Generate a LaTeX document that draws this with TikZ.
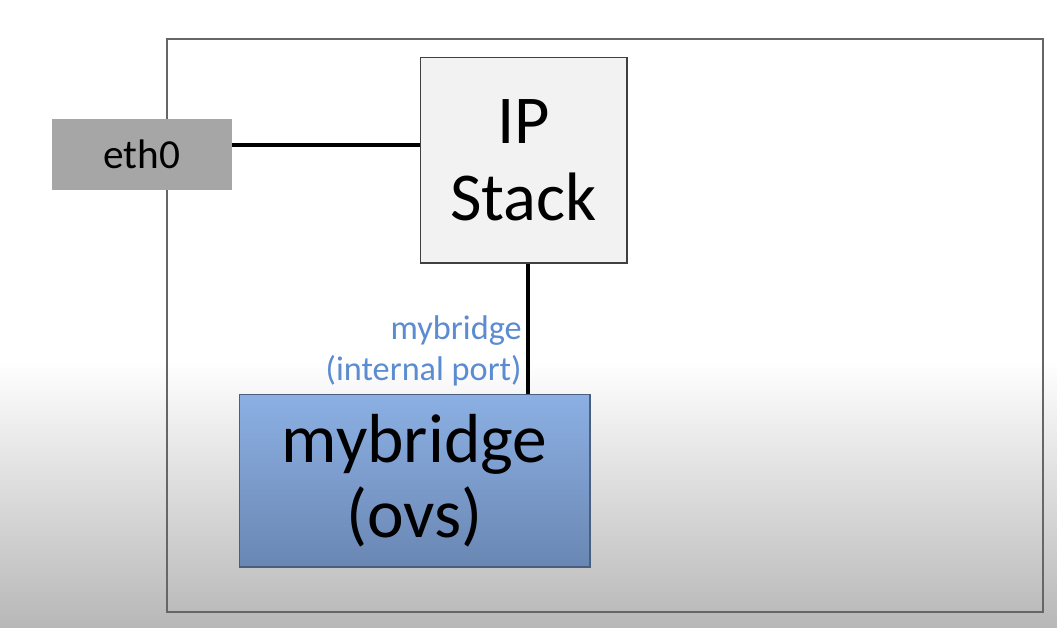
\documentclass[tikz,border=0pt]{standalone}
\usepackage{fontspec}
\setmainfont{Carlito}
\definecolor{portblue}{HTML}{5B8BD0}
\definecolor{ovstop}{HTML}{8CB0E4}
\definecolor{ovsbot}{HTML}{6A87B3}
\definecolor{ovsline}{HTML}{4A5F80}
\begin{document}
\begin{tikzpicture}[x=0.02cm, y=-0.02cm]
    % 通用样式
    \tikzstyle{box_eth} = [rectangle, fill=black!35, minimum width=3.6cm, minimum height=1.42cm, font=\fontsize{23.5}{27}\selectfont]
    \tikzstyle{box_ip} = [rectangle, draw=black!75, fill=black!5, line width=0.6pt, minimum width=4.14cm, minimum height=4.12cm, align=center, font=\fontsize{39}{44}\selectfont]
    \tikzstyle{box_ovs} = [rectangle, draw=ovsline, line width=0.6pt, top color=ovstop, bottom color=ovsbot, minimum width=7.02cm, minimum height=3.46cm, align=center, font=\fontsize{39.5}{42.5}\selectfont]
    \tikzstyle{line_conn} = [-, line width=2pt, black]

    % ================= 背景 =================
    \useasboundingbox (0,0) rectangle (1057,627);
    \fill[white] (0,0) rectangle (1057,361);
    \shade[top color=white, bottom color=black!28] (0,360) rectangle (1057,627);
    \draw[black!60, line width=0.8pt] (167,39) rectangle (1043,612);

    % ================= 节点 =================
    \node[box_eth] (eth0) at (142,154.5) {eth0};
    \node[box_ip] (ip) at (523.5,160) {IP\\Stack};
    \node[box_ovs] (br) at (414.5,480.5) {mybridge\\(ovs)};

    % 端口标签
    \node[portblue, anchor=east, inner sep=0pt, align=right, font=\fontsize{19.5}{23.5}\selectfont] (plabel) at (522,351) {mybridge\\(internal port)};

    % ================= 连线 =================
    \draw[line_conn] (eth0.east |- 0,145) -- (ip.west |- 0,145);
    \draw[line_conn] (ip.south -| 528,0) -- (br.north -| 528,0);

\end{tikzpicture}
\end{document}
